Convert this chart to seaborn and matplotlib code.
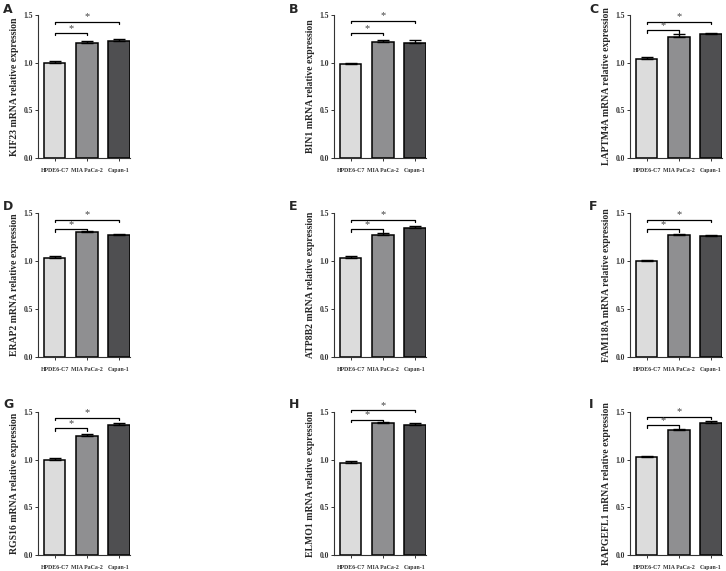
import pandas as pd
import numpy as np
import matplotlib
matplotlib.use("Agg")
import matplotlib.pyplot as plt
import seaborn as sns

cells = ['HPDE6-C7', 'MIA PaCa-2', 'Capan-1']
genes = ['KIF23', 'BIN1', 'LAPTM4A', 'ERAP2', 'ATP8B2', 'FAM118A', 'RGS16', 'ELMO1', 'RAPGEFL1']
letters = ['A', 'B', 'C', 'D', 'E', 'F', 'G', 'H', 'I']

means = [
    [1.00, 1.21, 1.23],
    [0.99, 1.22, 1.21],
    [1.04, 1.27, 1.30],
    [1.03, 1.30, 1.27],
    [1.03, 1.27, 1.34],
    [1.00, 1.27, 1.26],
    [1.00, 1.25, 1.36],
    [0.97, 1.38, 1.36],
    [1.03, 1.31, 1.38],
]
sems = [
    [0.015, 0.020, 0.020],
    [0.010, 0.020, 0.030],
    [0.020, 0.035, 0.015],
    [0.025, 0.010, 0.015],
    [0.020, 0.025, 0.020],
    [0.010, 0.015, 0.010],
    [0.015, 0.020, 0.020],
    [0.020, 0.010, 0.025],
    [0.010, 0.015, 0.025],
]
# significance bracket heights (HPDE6-C7 vs MIA PaCa-2, HPDE6-C7 vs Capan-1)
bracket_low = [1.31, 1.31, 1.34, 1.33, 1.33, 1.33, 1.33, 1.42, 1.36]
bracket_high = [1.43, 1.44, 1.43, 1.43, 1.43, 1.43, 1.44, 1.52, 1.45]

colors = ['#dcdcdc', '#8f8f91', '#4f4f51']

sns.set_style('ticks')
plt.rcParams['font.family'] = ['Liberation Serif', 'DejaVu Serif']

fig = plt.figure(figsize=(7.26, 5.71), dpi=100)

col_left = [38, 334, 630]
row_top = [15, 213, 412]
row_bot = [158, 357, 555]
W, H = 726, 571
letter_pos = [(3, 3), (289, 3), (589, 3), (3, 200), (289, 200), (589, 200), (3, 398), (289, 398), (589, 398)]

for i, gene in enumerate(genes):
    r, c = divmod(i, 3)
    ax = fig.add_axes([col_left[c] / W, 1 - row_bot[r] / H, 92 / W, (row_bot[r] - row_top[r]) / H])
    df = pd.DataFrame({'cell': cells, 'value': means[i]})
    sns.barplot(data=df, x='cell', y='value', hue='cell', palette=colors, legend=False,
                edgecolor='black', linewidth=1.1, width=0.66, errorbar=None, ax=ax)
    ax.errorbar(np.arange(3), means[i], yerr=[np.zeros(3), sems[i]], fmt='none',
                ecolor='black', elinewidth=1.0, capsize=4, capthick=1.0)
    ax.set_xlim(-0.52, 2.34)
    ax.set_ylim(0, 1.5)
    ax.set_yticks([0.0, 0.5, 1.0, 1.5])
    ax.set_yticklabels(['0.0', '0.5', '1.0', '1.5'])
    ax.tick_params(axis='y', labelsize=5.5, length=2.5, width=0.7, pad=1, colors='#333333')
    ax.tick_params(axis='x', labelsize=4.2, length=2, width=0.7, pad=5, colors='#333333')
    for lab in ax.get_xticklabels() + ax.get_yticklabels():
        lab.set_fontweight('bold')
    ax.set_xlabel('')
    ax.set_ylabel(f'{gene} mRNA relative expression', fontsize=7, fontweight='bold', labelpad=3)
    sns.despine(ax=ax)
    for sp in ['left', 'bottom']:
        ax.spines[sp].set_linewidth(0.8)
        ax.spines[sp].set_color('#333333')

    # brackets
    for target, yb in [(1, bracket_low[i]), (2, bracket_high[i])]:
        ax.plot([0, 0, target, target], [yb - 0.025, yb, yb, yb - 0.025], color='black',
                lw=0.9, clip_on=False)
        ax.text(target / 2, yb + 0.003, '*', ha='center', va='bottom', fontsize=7.5,
                color='#444444', clip_on=False)

    fig.text(letter_pos[i][0] / W, 1 - letter_pos[i][1] / H, letters[i], fontsize=9,
             fontweight='bold', family='DejaVu Sans', va='top', ha='left')

fig.savefig('out.png', dpi=100, facecolor='white')
